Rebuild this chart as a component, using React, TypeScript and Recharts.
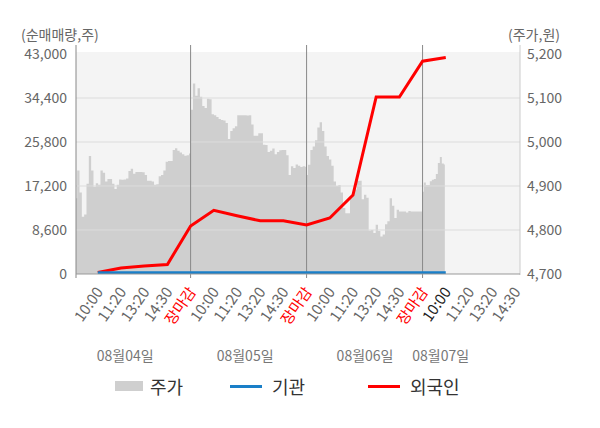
import React from 'react';
import { ComposedChart, Area, Line, XAxis, YAxis, ReferenceLine, CartesianGrid } from 'recharts';

// ---- data ----
const slotLabels = ['10:00', '11:20', '13:20', '14:30', '장마감'];
const slotTicks = [1, 2, 3, 4, 5, 6, 7, 8, 9, 10, 11, 12, 13, 14, 15, 16, 17, 18, 19];
const dayBoundaries = [5, 10, 15];
const dateLabels = ['08월04일', '08월05일', '08월06일', '08월07일'];
const datePos = [2.18, 7.35, 12.52, 15.78];
const volTicks = [0, 8600, 17200, 25800, 34400, 43000];
const priceTicks = [4700, 4800, 4900, 5000, 5100, 5200];

const foreignNet = [300, 1170, 1560, 1860, 9380, 12450, 11400, 10400, 10400, 9580, 10950, 15440, 34600, 34600, 41600, 42300];
const instNet = [250, 250, 250, 250, 250, 250, 250, 250, 250, 250, 250, 250, 250, 250, 250, 250];

const priceDay1 = [4872, 4935, 4885, 4830, 4835, 4905, 4968, 4935, 4898, 4906, 4903, 4935, 4930, 4910, 4916, 4916, 4905, 4893, 4903, 4915, 4914, 4915, 4917, 4934, 4939, 4928, 4932, 4932, 4932, 4931, 4925, 4912, 4912, 4910, 4903, 4904, 4922, 4925, 4935, 4955, 4957, 4957, 4982, 4986, 4980, 4976, 4972, 4969, 4970, 4974];
const priceDay2 = [5073, 5133, 5105, 5122, 5103, 5082, 5077, 5098, 5097, 5063, 5061, 5057, 5052, 5050, 5049, 5043, 5007, 5025, 5031, 5036, 5061, 5061, 5061, 5061, 5060, 5061, 5040, 5014, 5014, 5020, 5020, 4994, 4993, 4977, 4980, 4985, 4972, 4977, 4981, 4982, 4982, 4970, 4925, 4945, 4941, 4949, 4946, 4943, 4945, 4944];
const priceDay3 = [4925, 4948, 4982, 4990, 5004, 5033, 5045, 5025, 4990, 4968, 4960, 4946, 4910, 4900, 4902, 4885, 4850, 4838, 4838, 4872, 4885, 4892, 4912, 4912, 4870, 4880, 4873, 4799, 4800, 4793, 4812, 4798, 4785, 4790, 4813, 4820, 4872, 4855, 4827, 4846, 4842, 4842, 4842, 4840, 4843, 4842, 4842, 4842, 4842, 4842];
const priceDay4 = [4887, 4908, 4902, 4902, 4911, 4914, 4916, 4927, 4952, 4966, 4951, 4949];
const priceDays = [priceDay1, priceDay2, priceDay3, priceDay4];
// time span (in slot units) covered by each day's price samples
const daySpans = [[0.06, 4.98], [5.05, 9.98], [10.01, 14.94], [15.01, 15.96]];

const legendItems = [
  { name: '주가', kind: 'area', color: '#cfcfcf' },
  { name: '기관', kind: 'line', color: '#1a7fc8' },
  { name: '외국인', kind: 'line', color: '#ff0000' },
];

// ---- derived tables ----
const X_MIN = 0.06;
const X_MAX = 19.2;
const VOL_MAX = 43391;
const PRICE_MAX = 5204.5;

const priceData = priceDays.flatMap((arr, d) =>
  arr.map((v, i) => ({ x: daySpans[d][0] + (i * (daySpans[d][1] - daySpans[d][0])) / (arr.length - 1), price: v }))
);
const foreignData = foreignNet.map((v, i) => ({ x: i + 1, foreign: v }));
const instData = instNet.map((v, i) => ({ x: i + 1, inst: v }));

const fmt = (v: number) => v.toLocaleString('en-US');
const FONT = '"Noto Sans CJK KR", "Noto Sans", sans-serif';

const extLine = (top: number, bottom: number, color: string) => (p: any) => (
  <line
    x1={p.x1}
    x2={p.x2}
    y1={Math.min(p.y1, p.y2) - top}
    y2={Math.max(p.y1, p.y2) + bottom}
    stroke={color}
    strokeWidth={1}
  />
);

const SlotTick = (props: any) => {
  const { x, y, payload } = props;
  const u = payload.value;
  const idx = (u - 1) % 5;
  const label = slotLabels[idx];
  const color = idx === 4 ? '#ff0000' : u === 16 ? '#222222' : '#666666';
  const ax = x + 6;
  const ay = y + 16;
  return (
    <text
      x={ax}
      y={ay}
      textAnchor="end"
      fill={color}
      fontSize={15}
      fontFamily={FONT}
      transform={`rotate(-55, ${ax}, ${ay})`}
    >
      {label}
    </text>
  );
};

const DateTick = (props: any) => {
  const { x, y, index } = props;
  return (
    <text x={x} y={y + 19} textAnchor="middle" dominantBaseline="central" fill="#777" fontSize={14} fontFamily={FONT}>
      {dateLabels[index]}
    </text>
  );
};

const MAIN = 'a_main';
const DATE = 'z_date';

export default function App() {
  const legendLeft = [115, 230, 368];
  return (
    <div style={{ position: 'absolute', left: 0, top: 0, width: 600, height: 428, background: '#fff', fontFamily: FONT }}>
      <ComposedChart width={600} height={428} margin={{ top: 52, right: 10, bottom: 64, left: 16 }}>
        <CartesianGrid horizontal={false} vertical={false} fill="#f4f4f4" xAxisId={MAIN} yAxisId="vol" />
        <XAxis
          xAxisId={MAIN}
          type="number"
          dataKey="x"
          domain={[X_MIN, X_MAX]}
          ticks={slotTicks}
          interval={0}
          tick={<SlotTick />}
          tickSize={0}
          tickLine={false}
          axisLine={{ stroke: '#999' }}
          height={60}
          allowDataOverflow
        />
        <XAxis
          xAxisId={DATE}
          type="number"
          dataKey="x"
          domain={[X_MIN, X_MAX]}
          ticks={datePos}
          interval={0}
          tick={<DateTick />}
          tickSize={0}
          tickLine={false}
          axisLine={false}
          height={30}
          allowDataOverflow
        />
        <YAxis
          yAxisId="vol"
          orientation="left"
          domain={[0, VOL_MAX]}
          ticks={volTicks}
          interval={0}
          tickFormatter={fmt}
          tick={{ fill: '#666', fontSize: 14, fontFamily: FONT }}
          tickSize={0}
          tickMargin={9}
          axisLine={false}
          tickLine={false}
          width={60}
          allowDataOverflow
        />
        <YAxis
          yAxisId="price"
          orientation="right"
          domain={[4700, PRICE_MAX]}
          ticks={priceTicks}
          interval={0}
          tickFormatter={fmt}
          tick={{ fill: '#666', fontSize: 14, fontFamily: FONT, textAnchor: 'start' }}
          tickSize={0}
          tickMargin={7}
          axisLine={false}
          tickLine={false}
          width={70}
          allowDataOverflow
        />
        <Area
          xAxisId={MAIN}
          yAxisId="price"
          data={priceData}
          dataKey="price"
          type="step"
          fill="#cfcfcf"
          fillOpacity={1}
          stroke="none"
          isAnimationActive={false}
          dot={false}
          activeDot={false}
        />
        {volTicks.slice(1, 5).map((v) => (
          <ReferenceLine key={v} xAxisId={MAIN} yAxisId="vol" y={v} stroke="#dcdcdc" strokeWidth={1} />
        ))}
        <ReferenceLine xAxisId={MAIN} yAxisId="vol" x={X_MIN} stroke="#888" shape={extLine(7, 4, '#888')} />
        <ReferenceLine xAxisId={MAIN} yAxisId="vol" x={X_MAX} stroke="#ccc" shape={extLine(7, 1, '#cccccc')} />
        {dayBoundaries.map((b) => (
          <ReferenceLine key={b} xAxisId={MAIN} yAxisId="vol" x={b} stroke="#888" shape={extLine(7, 4, '#888')} />
        ))}
        <Line
          xAxisId={MAIN}
          yAxisId="vol"
          data={foreignData}
          dataKey="foreign"
          type="linear"
          stroke="#ff0000"
          strokeWidth={3}
          dot={false}
          activeDot={false}
          isAnimationActive={false}
        />
        <Line
          xAxisId={MAIN}
          yAxisId="vol"
          data={instData}
          dataKey="inst"
          type="linear"
          stroke="#1a7fc8"
          strokeWidth={3}
          dot={false}
          activeDot={false}
          isAnimationActive={false}
        />
      </ComposedChart>
      <div style={{ position: 'absolute', left: 21, top: 25, fontSize: 14, lineHeight: '18px', color: '#666' }}>(순매매량,주)</div>
      <div style={{ position: 'absolute', left: 508, top: 25, fontSize: 14, lineHeight: '18px', color: '#666' }}>(주가,원)</div>
      {legendItems.map((it, i) => (
        <div
          key={it.name}
          style={{ position: 'absolute', left: legendLeft[i], top: 375, height: 22, display: 'flex', alignItems: 'center' }}
        >
          {it.kind === 'area' ? (
            <div style={{ width: 28, height: 10, background: it.color }} />
          ) : (
            <div style={{ width: 32, height: 3, background: it.color }} />
          )}
          <span style={{ marginLeft: it.kind === 'area' ? 7 : 10, fontSize: 18, color: '#333', lineHeight: '22px' }}>{it.name}</span>
        </div>
      ))}
    </div>
  );
}
